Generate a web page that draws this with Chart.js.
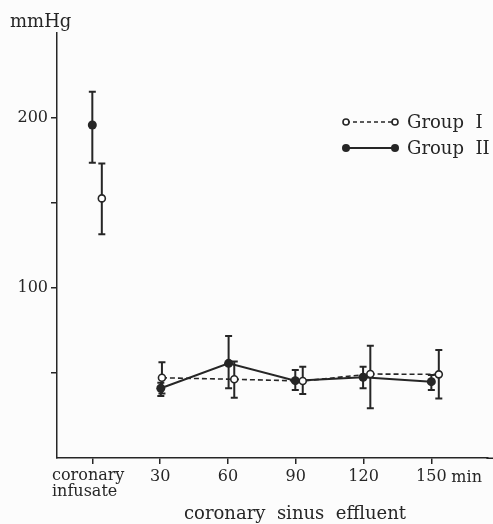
<!DOCTYPE html>
<html>
<head>
<meta charset="utf-8">
<script src="https://cdn.jsdelivr.net/npm/chart.js@4/dist/chart.umd.min.js"></script>
<style>
  html, body { margin: 0; padding: 0; background: #fcfcfc; }
  #wrap { width: 493px; height: 524px; }
</style>
</head>
<body>
<div id="wrap"><canvas id="c" width="493" height="524"></canvas></div>
<script>
// ---- data ----
const times = [0, 30, 60, 90, 120, 150];            // 0 = coronary infusate
const xTickLabels = ['coronary infusate', '30', '60', '90', '120', '150'];
const yTicks = [50, 100, 150, 200];
const yTickLabels = ['', '100', '', '200'];

const group1Mean  = [152.7, 47.2, 46.3, 45.3, 49.4, 49.2];
const group1Upper = [173.3, 56.3, 56.7, 53.7, 66.0, 63.5];
const group1Lower = [131.6, 38.0, 35.5, 37.6, 29.2, 35.0];

const group2Mean  = [195.9, 41.0, 55.7, 45.5, 47.5, 44.9];
const group2Upper = [215.5, 44.3, 71.8, 51.8, 53.7, 48.8];
const group2Lower = [173.7, 36.5, 41.0, 40.0, 41.0, 40.0];

// ---- display-only horizontal dodge (minutes) ----
const group1Dodge = [4.2, 0.8, 2.8, 3.1, 3.0, 3.3];
const group2Dodge = [0, 0.3, 0.3, -0.2, -0.2, 0];

const INK = '#262626';
const FONT = "'DejaVu Serif', 'Liberation Serif', serif";

function buildPoints(mean, dodge) {
  const pts = [];
  times.forEach((t, i) => {
    pts.push({ x: t + dodge[i], y: mean[i] });
    if (i === 0) pts.push({ x: 15, y: null }); // break line between infusate and effluent
  });
  return pts;
}

const errorBarPlugin = {
  id: 'errorBars',
  beforeDatasetsDraw(chart) {
    const { ctx, scales: { x, y } } = chart;
    const groups = [
      { mean: group1Mean, up: group1Upper, lo: group1Lower, dodge: group1Dodge },
      { mean: group2Mean, up: group2Upper, lo: group2Lower, dodge: group2Dodge }
    ];
    ctx.save();
    ctx.strokeStyle = INK;
    ctx.lineWidth = 2;
    groups.forEach(g => {
      times.forEach((t, i) => {
        const px = x.getPixelForValue(t + g.dodge[i]);
        const pTop = y.getPixelForValue(g.up[i]);
        const pBot = y.getPixelForValue(g.lo[i]);
        ctx.beginPath();
        ctx.moveTo(px, pTop); ctx.lineTo(px, pBot);
        ctx.moveTo(px - 3.5, pTop); ctx.lineTo(px + 3.5, pTop);
        ctx.moveTo(px - 3.5, pBot); ctx.lineTo(px + 3.5, pBot);
        ctx.stroke();
      });
    });
    ctx.restore();
  }
};

const textPlugin = {
  id: 'extraText',
  afterDraw(chart) {
    const { ctx, chartArea, scales: { x, y } } = chart;
    ctx.save();
    // extend x-axis line to the right edge of the figure
    ctx.strokeStyle = INK;
    ctx.lineWidth = 1.5;
    ctx.beginPath();
    ctx.moveTo(chartArea.right - 1, chartArea.bottom + 0.25);
    ctx.lineTo(chart.width, chartArea.bottom + 0.25);
    ctx.stroke();

    ctx.fillStyle = INK;
    ctx.textBaseline = 'alphabetic';
    // y unit
    ctx.font = '18px ' + FONT;
    ctx.textAlign = 'left';
    ctx.fillText('mmHg', 10, 27);
    // first x tick label (left aligned, two lines)
    ctx.font = '16px ' + FONT;
    const parts = xTickLabels[0].split(' ');
    ctx.fillText(parts[0], 52, 480);
    ctx.fillText(parts[1], 52, 496);
    // unit after last tick
    const p150 = x.getPixelForValue(150);
    ctx.fillText('min', p150 + 20, 482);
    // axis title
    ctx.font = '18px ' + FONT;
    ctx.textAlign = 'center';
    ctx.fillText('coronary  sinus  effluent', 295, 519);
    // legend
    const lx0 = 346, lx1 = 395;
    ctx.lineWidth = 1.6;
    // Group I
    ctx.setLineDash([4, 3]);
    ctx.beginPath(); ctx.moveTo(lx0, 122); ctx.lineTo(lx1, 122); ctx.stroke();
    ctx.setLineDash([]);
    [lx0, lx1].forEach(cx => {
      ctx.beginPath(); ctx.arc(cx, 122, 3, 0, Math.PI * 2);
      ctx.fillStyle = '#fff'; ctx.fill(); ctx.stroke();
    });
    // Group II
    ctx.lineWidth = 2;
    ctx.beginPath(); ctx.moveTo(lx0, 148); ctx.lineTo(lx1, 148); ctx.stroke();
    ctx.fillStyle = INK;
    [lx0, lx1].forEach(cx => {
      ctx.beginPath(); ctx.arc(cx, 148, 4, 0, Math.PI * 2); ctx.fill();
    });
    ctx.font = '18px ' + FONT;
    ctx.textAlign = 'left';
    ctx.fillText('Group  I', 407, 128);
    ctx.fillText('Group  II', 407, 154);
    ctx.restore();
  }
};

new Chart(document.getElementById('c'), {
  type: 'line',
  data: {
    datasets: [
      {
        label: 'Group I',
        data: buildPoints(group1Mean, group1Dodge),
        borderColor: INK,
        borderWidth: 1.6,
        borderDash: [5, 3],
        pointRadius: 3.5,
        pointBorderWidth: 1.6,
        pointBackgroundColor: '#ffffff',
        pointBorderColor: INK,
        spanGaps: false,
        tension: 0,
        order: 1
      },
      {
        label: 'Group II',
        data: buildPoints(group2Mean, group2Dodge),
        borderColor: INK,
        borderWidth: 2,
        pointRadius: 4.5,
        pointBorderWidth: 0,
        pointBackgroundColor: INK,
        pointBorderColor: INK,
        spanGaps: false,
        tension: 0,
        order: 2
      }
    ]
  },
  options: {
    responsive: false,
    animation: false,
    layout: { padding: { top: 33, left: 0, right: 0, bottom: 0 } },
    plugins: { legend: { display: false }, tooltip: { enabled: false } },
    scales: {
      x: {
        type: 'linear',
        min: -15.63,
        max: 174.8,
        afterBuildTicks: s => { s.ticks = times.map(v => ({ value: v })); },
        afterFit: s => { s.height = 66; s.paddingLeft = 0; s.paddingRight = 0; },
        ticks: {
          autoSkip: false,
          maxRotation: 0,
          padding: 3,
          color: INK,
          font: { family: FONT, size: 16 },
          callback: v => { const i = times.indexOf(v); return i > 0 ? xTickLabels[i] : ''; }
        },
        grid: { drawOnChartArea: false, drawTicks: true, tickLength: 6, color: INK, lineWidth: 1.5 },
        border: { display: true, color: INK, width: 1.5 }
      },
      y: {
        min: 0,
        max: 250,
        afterBuildTicks: s => { s.ticks = yTicks.map(v => ({ value: v })); },
        afterFit: s => { s.width = 57; s.paddingTop = 0; s.paddingBottom = 0; },
        ticks: {
          autoSkip: false,
          padding: 3,
          color: INK,
          font: { family: FONT, size: 16 },
          callback: v => { const i = yTicks.indexOf(v); return i >= 0 ? yTickLabels[i] : ''; }
        },
        grid: { drawOnChartArea: false, drawTicks: true, tickLength: 6, color: INK, lineWidth: 1.5 },
        border: { display: true, color: INK, width: 1.5 }
      }
    }
  },
  plugins: [errorBarPlugin, textPlugin]
});
</script>
</body>
</html>
